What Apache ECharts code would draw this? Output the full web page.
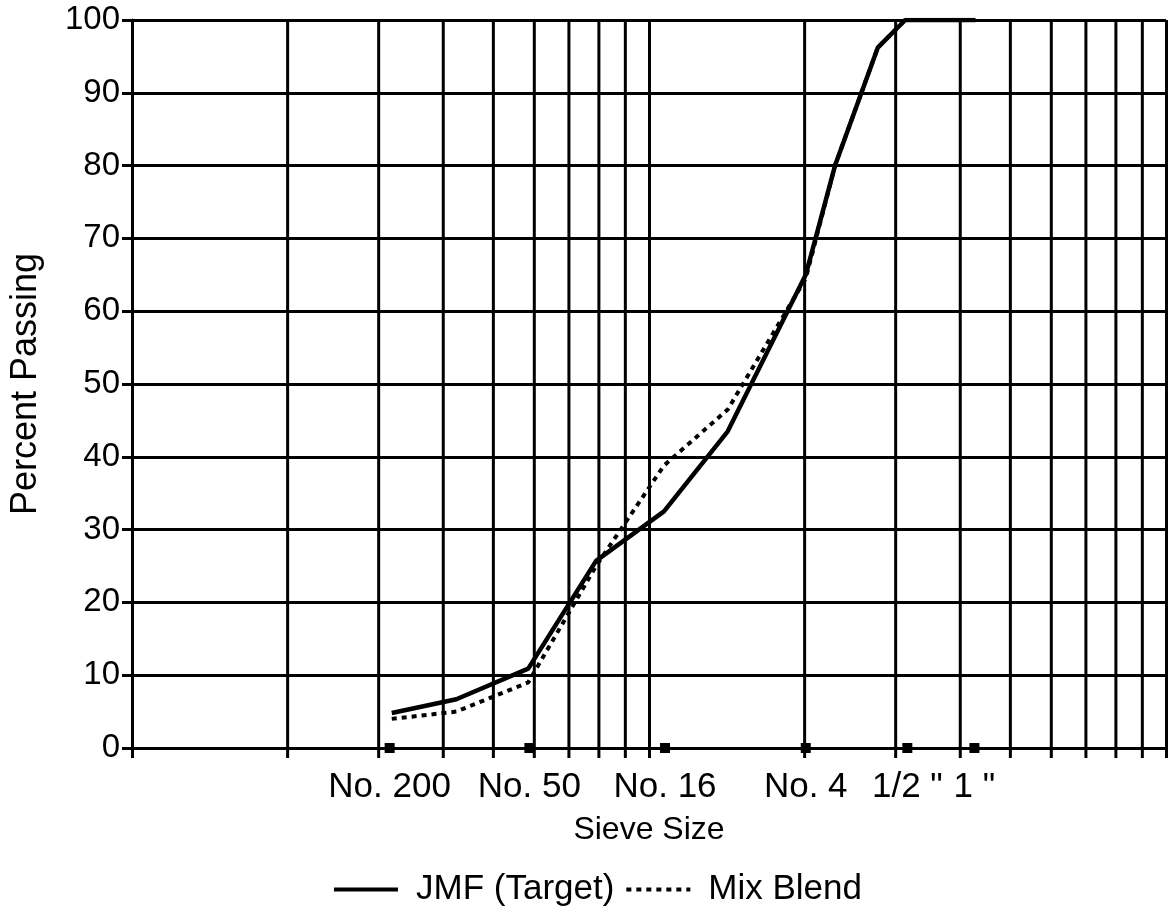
<!DOCTYPE html>
<html><head><meta charset="utf-8">
<script src="https://cdn.jsdelivr.net/npm/echarts@6/dist/echarts.min.js"></script>
<style>html,body{margin:0;padding:0;background:#fff}#c{width:1169px;height:921px}</style>
</head><body><div id="c"></div>
<script>
// Sieve positions in chart units (log axis 1..100, 0.45-power sieve scale)
const sievePos = [3.18, 4.24, 5.84, 7.90, 10.69, 14.2, 20.1, 22.9, 27.7, 31.3, 42.8];
const jmfTarget = [4.8, 6.7, 10.9, 25.7, 32.5, 43.5, 65, 80, 96.2, 100, 100];
const mixBlend  = [4.0, 5.0, 9.0, 25.0, 38.8, 46.5, 64.5, 80, 96.2, 100, 100];
const tickLabels = ['No. 200', 'No. 50', 'No. 16', 'No. 4', '1/2 "', '1 "'];
const tickPos = [3.15, 5.87, 10.74, 20.1, 31.6, 42.6];
const minorGrid = [2, 3, 4, 5, 6, 7, 8, 9, 20, 30, 40, 50, 60, 70, 80, 90];

const chart = echarts.init(document.getElementById('c'));
const FONT = "'Liberation Sans', Arial, Helvetica, sans-serif";
chart.setOption({
  animation: false,
  backgroundColor: '#fff',
  textStyle: { fontFamily: FONT, color: '#000' },
  grid: { left: 130, right: 3, top: 20, bottom: 173 },
  legend: {
    data: ['JMF (Target)', 'Mix Blend'],
    left: 327, top: 867,
    itemWidth: 64, itemHeight: 2, itemGap: 10,
    itemStyle: { opacity: 0 },
    lineStyle: { width: 4 },
    textStyle: { fontSize: 35, color: '#000', fontFamily: FONT, padding: [0, 0, 0, 13] }
  },
  xAxis: {
    type: 'log', logBase: 10, min: 1, max: 100,
    name: 'Sieve Size', nameLocation: 'middle', nameGap: 66,
    nameTextStyle: { fontSize: 32, color: '#000', fontFamily: FONT },
    axisLine: { show: true, lineStyle: { color: '#000', width: 3 } },
    axisTick: { show: true, length: 10, lineStyle: { color: '#000', width: 3 } },
    axisLabel: { show: false },
    splitLine: { show: true, lineStyle: { color: '#000', width: 3 } },
    minorTick: { show: false }, minorSplitLine: { show: false }
  },
  yAxis: {
    type: 'value', min: 0, max: 100, interval: 10,
    name: 'Percent Passing', nameLocation: 'middle', nameGap: 88,
    nameTextStyle: { fontSize: 36, color: '#000', fontFamily: FONT },
    axisLine: { show: true, lineStyle: { color: '#000', width: 3 } },
    axisTick: { show: true, length: 10, lineStyle: { color: '#000', width: 3 } },
    axisLabel: { fontSize: 33, color: '#000', margin: 12, fontFamily: FONT },
    splitLine: { show: true, lineStyle: { color: '#000', width: 3 } }
  },
  series: [
    {
      name: 'minorGrid', type: 'custom', silent: true, z: 1, clip: false,
      data: minorGrid.map(v => [v, 0]),
      renderItem: function (params, api) {
        const top = api.coord([api.value(0), 100]);
        const bot = api.coord([api.value(0), 0]);
        return { type: 'line', shape: { x1: top[0], y1: top[1], x2: bot[0], y2: bot[1] + 10 },
                 style: { stroke: '#000', lineWidth: 3 } };
      }
    },
    {
      name: 'JMF (Target)', type: 'line', z: 4, symbol: 'none',
      data: sievePos.map((x, i) => [x, jmfTarget[i]]),
      lineStyle: { color: '#000', width: 4.5 }, itemStyle: { color: '#000' }
    },
    {
      name: 'Mix Blend', type: 'line', z: 3, symbol: 'none',
      data: sievePos.map((x, i) => [x, mixBlend[i]]),
      lineStyle: { color: '#000', width: 4, type: [5, 5] }, itemStyle: { color: '#000' }
    },
    {
      name: 'sieves', type: 'scatter', z: 6, clip: false, silent: true,
      symbol: 'rect', symbolSize: 10,
      itemStyle: { color: '#000', opacity: 1 },
      data: tickPos.map((x, i) => ({ value: [x, 0], name: tickLabels[i] })),
      label: { show: true, position: 'bottom', distance: 17, formatter: p => p.name,
               fontSize: 35, color: '#000', fontFamily: FONT }
    }
  ]
});
</script></body></html>
